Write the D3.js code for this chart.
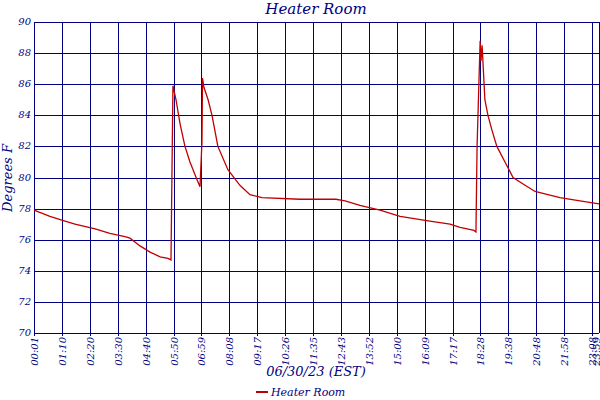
<!DOCTYPE html>
<html>
<head>
<meta charset="utf-8">
<script src="https://d3js.org/d3.v7.min.js"></script>
<style>
body { margin: 0; background: #fff; }
text { font-family: "DejaVu Serif", serif; font-style: italic; fill: #000080; }
</style>
</head>
<body>
<svg width="600" height="400"></svg>
<script>
// tick labels sit at equal spacing (sample index), so x is in "tick units"
var tickLabels = ["00:01","01:10","02:20","03:30","04:40","05:50","06:59","08:08","09:17","10:26",
  "11:35","12:43","13:52","15:00","16:09","17:17","18:28","19:38","20:48","21:58","23:08"];
var lastLabel = "23:59";
var xPos = [0,0.57,1.11,1.47,2.19,2.72,3.26,3.44,3.80,4.16,4.52,4.80,4.91,4.98,5.09,5.23,5.41,5.59,5.81,5.95,
  6.02,6.04,6.09,6.24,6.38,6.59,6.95,7.38,7.74,8.17,9.53,10.82,11.15,11.68,12.40,13.12,14.19,14.91,15.27,15.77,
  15.84,15.88,15.99,16.02,16.06,16.16,16.27,16.42,16.59,16.88,17.17,17.6,17.96,18.42,18.85,19.57,20.25];
var temps = [77.9,77.5,77.2,77.0,76.7,76.4,76.2,76.1,75.6,75.2,74.9,74.8,74.7,85.9,85.0,83.5,82.0,81.0,80.0,79.4,
  82.3,86.4,85.8,85.0,84.0,82.0,80.5,79.5,78.9,78.7,78.6,78.6,78.5,78.2,77.9,77.5,77.2,77.0,76.8,76.6,
  76.5,82.0,88.8,87.5,88.5,85.0,84.0,83.0,82.0,81.0,80.0,79.5,79.1,78.9,78.7,78.5,78.3];
var yTicks = [70,72,74,76,78,80,82,84,86,88,90];

var svg = d3.select("svg");
var m = {l: 34, r: 599, t: 22, b: 333};
var x = d3.scaleLinear().domain([0, 20.25]).range([m.l, m.r]);
var y = d3.scaleLinear().domain([70, 90]).range([m.b, m.t]);
var navy = "#000080";

var grid = svg.append("g").attr("stroke", navy).attr("stroke-width", 1);
yTicks.forEach(function(v) {
  grid.append("line").attr("x1", m.l).attr("x2", m.r).attr("y1", Math.round(y(v)) + 0.5).attr("y2", Math.round(y(v)) + 0.5);
});
tickLabels.forEach(function(t, i) {
  grid.append("line").attr("y1", m.t).attr("y2", m.b + 3).attr("x1", Math.round(x(i)) + 0.5).attr("x2", Math.round(x(i)) + 0.5);
});
grid.append("line").attr("y1", m.t).attr("y2", m.b).attr("x1", m.r + 0.5).attr("x2", m.r + 0.5);

yTicks.forEach(function(v) {
  svg.append("text").attr("x", 31).attr("y", y(v) + 3).attr("text-anchor", "end")
    .attr("font-size", 10).text(v);
});
tickLabels.concat([lastLabel]).forEach(function(t, i) {
  var px = i < tickLabels.length ? x(i) : x(20.25) - 3;
  svg.append("text").attr("transform", "translate(" + (px + 4) + "," + (m.b + 4) + ") rotate(-90)")
    .attr("text-anchor", "end").attr("font-size", 10).text(t);
});

var data = xPos.map(function(u, i) { return [u, temps[i]]; });
svg.append("path").datum(data)
  .attr("fill", "none").attr("stroke", "#c00000").attr("stroke-width", 1.3)
  .attr("d", d3.line().x(function(d) { return x(d[0]); }).y(function(d) { return y(d[1]); }));

svg.append("text").attr("x", 316).attr("y", 14).attr("text-anchor", "middle").attr("font-size", 15).text("Heater Room");
svg.append("text").attr("transform", "translate(12,178) rotate(-90)").attr("text-anchor", "middle").attr("font-size", 13).text("Degrees F");
svg.append("text").attr("x", 316).attr("y", 376).attr("text-anchor", "middle").attr("font-size", 13).text("06/30/23 (EST)");
svg.append("line").attr("x1", 256).attr("x2", 268).attr("y1", 392).attr("y2", 392).attr("stroke", "#c00000").attr("stroke-width", 2);
svg.append("text").attr("x", 271).attr("y", 396).attr("font-size", 11).text("Heater Room");
</script>
</body>
</html>
